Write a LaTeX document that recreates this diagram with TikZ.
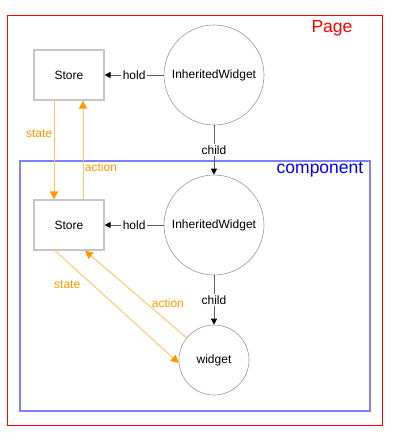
\documentclass[tikz,border=0pt]{standalone}
\usepackage{fontspec}
\setmainfont{Liberation Sans}
\usetikzlibrary{arrows.meta}
\definecolor{flowOrange}{RGB}{255,153,0}
\begin{document}
\begin{tikzpicture}[x=1pt, y=-1pt, font=\fontsize{12}{14}\selectfont]
\tikzstyle{store}=[draw=gray!45, line width=1.2pt, minimum width=70pt, minimum height=50pt, inner sep=0pt]
\tikzstyle{iw}=[draw=gray!80, line width=0.6pt, circle, minimum size=100pt, inner sep=0pt]
\tikzstyle{wg}=[iw, minimum size=70pt]
\tikzstyle{link}=[draw=gray!75!black, line width=1pt, -{Triangle[length=6pt, width=6pt, color=black]}]
\tikzstyle{flow}=[draw=flowOrange!60, line width=0.9pt, -{Triangle[length=8pt, width=8pt, color=flowOrange]}]
\tikzstyle{lbl}=[fill=white, inner sep=1.5pt]
\tikzstyle{olbl}=[text=flowOrange, inner sep=1.5pt]
\useasboundingbox (0,0) rectangle (402,445);

% Cajas exteriores
\draw[red, line width=1pt] (7,15) rectangle (382,425);
\node[red, font=\fontsize{17.5}{20}\selectfont] (page) at (332,28) {Page};
\draw[blue!50, line width=1.5pt] (20,161) rectangle (370,411);
\node[blue, font=\fontsize{17.5}{20}\selectfont] (comp) at (320,170) {component};

\node[store] (store1) at (69,75) {Store};
\node[iw] (iw1) at (214,75) {InheritedWidget};
\node[store] (store2) at (69,225) {Store};
\node[iw] (iw2) at (214,225) {InheritedWidget};
\node[wg] (widget) at (214,360) {widget};

\draw[link] (iw1) -- node[lbl] {hold} (store1);
\draw[link] (iw1) -- node[lbl] {child} (iw2);
\draw[link] (iw2) -- node[lbl] {hold} (store2);
\draw[link] (iw2) -- node[lbl] {child} (widget);

% Flujo de estado y acciones
\draw[flow] ([xshift=-15pt]store1.south) -- node[olbl, pos=0.33, left] {state} ([xshift=-15pt]store2.north);
\draw[flow] ([xshift=14pt]store2.north) -- node[olbl, pos=0.33, right] {action} ([xshift=14pt]store1.south);
\draw[flow] ([xshift=-14pt]store2.south) -- node[olbl, pos=0.3, left=10pt] {state} (widget.185);
\draw[flow] (widget.141) -- node[olbl, pos=0.4, right=4pt] {action} ([xshift=16pt]store2.south);
\end{tikzpicture}
\end{document}
